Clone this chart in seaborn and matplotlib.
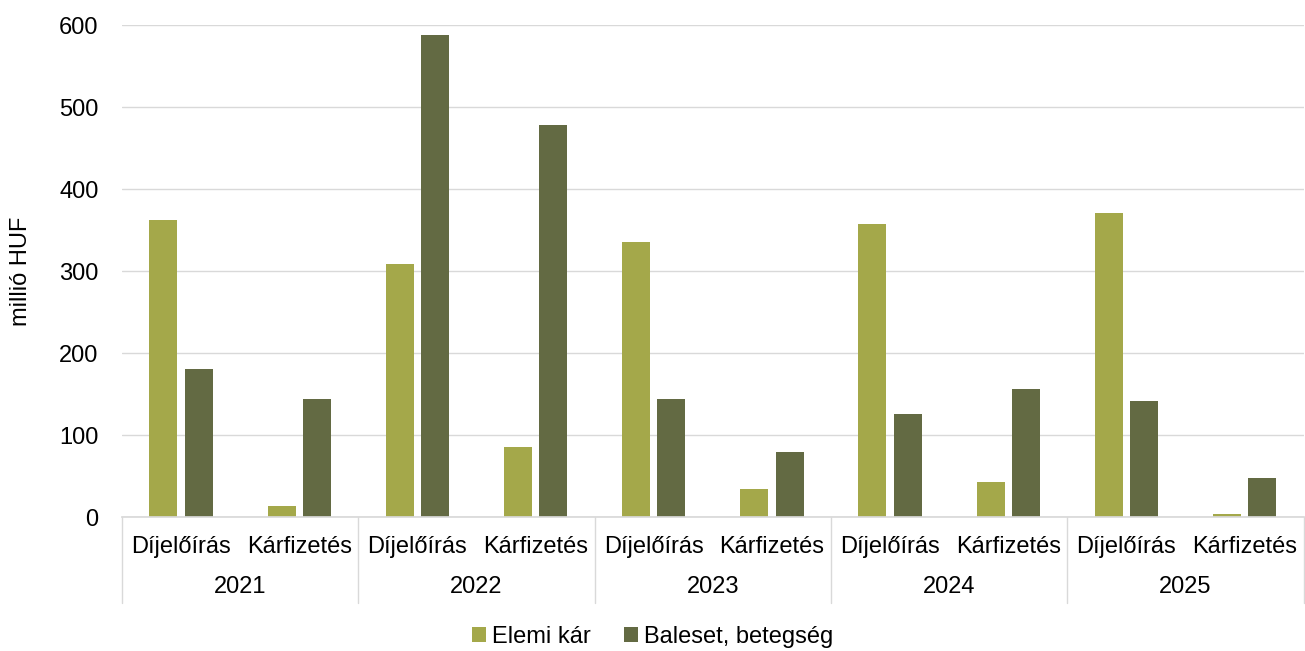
import matplotlib
matplotlib.use('Agg')
import matplotlib.pyplot as plt
import pandas as pd
import seaborn as sns

# adatok
years = ['2021', '2022', '2023', '2024', '2025']
kinds = ['Díjelőírás', 'Kárfizetés']
series = ['Elemi kár', 'Baleset, betegség']
elemi = [362, 13, 308, 85, 335, 34, 357, 43, 371, 4]
baleset = [180, 144, 588, 478, 144, 79, 126, 156, 141, 48]
colors = ['#A4A84A', '#636A43']

rows = []
i = 0
for y in years:
    for k in kinds:
        key = f'{y}|{k}'
        rows.append({'cat': key, 'series': series[0], 'value': elemi[i]})
        rows.append({'cat': key, 'series': series[1], 'value': baleset[i]})
        i += 1
df = pd.DataFrame(rows)
order = [f'{y}|{k}' for y in years for k in kinds]

sns.set_theme(style='white', rc={'text.color': 'black', 'axes.labelcolor': 'black',
                                 'ytick.color': 'black', 'xtick.color': 'black'})
plt.rcParams['font.family'] = ['Liberation Sans', 'DejaVu Sans']
fs = 17

fig = plt.figure(figsize=(13.05, 6.51), dpi=100)
ax = fig.add_axes([122 / 1305, 1 - 517 / 651, 1 - 122 / 1305 - 0.001, 492 / 651])

sns.barplot(data=df, x='cat', y='value', hue='series', order=order,
            hue_order=series, palette=colors, width=0.6, gap=0.21,
            saturation=1, linewidth=0, ax=ax, legend=True)

ax.set_ylim(0, 600)
ax.set_xlim(-0.5, len(order) - 0.5)
ax.set_yticks(range(0, 601, 100))
ax.yaxis.grid(True, color='#D9D9D9', linewidth=1)
ax.set_axisbelow(True)
for s in ['top', 'right', 'left']:
    ax.spines[s].set_visible(False)
ax.spines['bottom'].set_color('#D9D9D9')
ax.tick_params(axis='y', labelsize=fs, length=0, pad=17)
ax.set_ylabel('millió HUF', fontsize=fs, labelpad=19)
ax.set_xlabel('')
ax.set_xticks(range(len(order)))
ax.set_xticklabels([])
ax.tick_params(axis='x', length=0)

# kétszintű kategória-tengely
tr = ax.get_xaxis_transform()
for j, key in enumerate(order):
    ax.text(j, -0.061, key.split('|')[1], transform=tr, ha='center', va='center', fontsize=fs)
for g, y in enumerate(years):
    ax.text(2 * g + 0.5, -0.142, y, transform=tr, ha='center', va='center', fontsize=fs)
for g in range(len(years) + 1):
    ax.plot([2 * g - 0.5, 2 * g - 0.5], [0, -0.175], transform=tr, color='#D9D9D9',
            linewidth=1, clip_on=False)

handles, labels = ax.get_legend_handles_labels()
ax.get_legend().remove()
fig.legend(handles, labels, loc='center', bbox_to_anchor=(0.5, 1 - 637 / 651), ncol=2,
           frameon=False, fontsize=fs, handlelength=0.6, handleheight=0.6,
           handletextpad=0.25, columnspacing=1.4)

fig.savefig('out.png', dpi=100)
